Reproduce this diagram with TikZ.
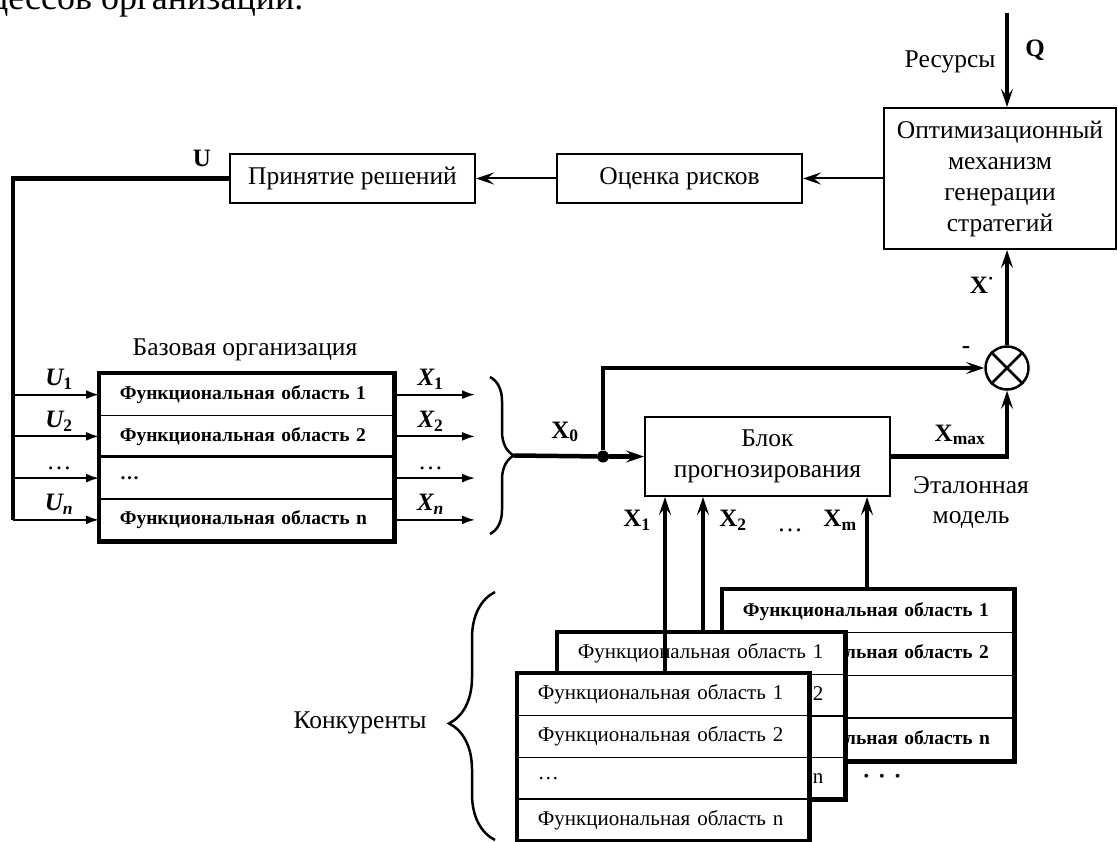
\documentclass[tikz,border=0pt]{standalone}
\usepackage{fontspec}
\setmainfont{Liberation Serif}
\usetikzlibrary{arrows.meta,positioning,decorations.pathreplacing}

\tikzset{
  blk/.style={draw,line width=2pt,fill=white,align=center,inner sep=0pt,
    minimum width=245pt,minimum height=49pt,font=\fontsize{25.5}{31}\selectfont},
  lbl/.style={font=\fontsize{25.5}{30}\selectfont},
  var/.style={font=\fontsize{25}{30}\selectfont\bfseries},
  ivar/.style={font=\fontsize{25}{30}\selectfont\bfseries\itshape},
  row/.style={draw,line width=1.5pt,fill=white,anchor=north west,
    inner xsep=20pt,inner ysep=0pt,align=left},
  frame/.style={line width=4.5pt},
  bus/.style={line width=4.5pt},
  arr/.style={-{Stealth[length=18pt,width=12pt,inset=7pt]}},
  sig/.style={line width=2pt,-{Latex[length=13pt,width=9pt]}},
  brc/.style={line width=2.5pt,decorate,decoration={brace,amplitude=#1}}
}

\begin{document}
\begin{tikzpicture}[x=1pt,y=-1pt]
\useasboundingbox (0,0) rectangle (1118,842);
\begin{scope}
\clip (0,0) rectangle (1118,842);
\node[anchor=base east,font=\fontsize{36}{40}\selectfont] (page) at (307,10) {процессов организации.};
\end{scope}

% blocks
\node[blk] (resh) at (352.5,178.5) {Принятие решений};
\node[blk] (risk) at (679.5,178.5) {Оценка рисков};
\node[blk,minimum width=232pt,minimum height=141pt] (optim) at (1000,178.5) {Оптимизационный\\механизм\\генерации\\стратегий};
\node[blk,minimum height=79pt] (prog) at (767.5,456.5) {Блок\\прогнозирования};
\node[circle,draw,line width=2.5pt,minimum size=43pt,inner sep=0pt] (cmp) at (1007,368) {};
\draw[line width=2.5pt] (cmp.north west) -- (cmp.south east) (cmp.north east) -- (cmp.south west);

% base organization
\node[lbl] (base) at (245,350) {Базовая организация};
\foreach \i/\t in {1/Функциональная область 1,2/Функциональная область 2,3/\dots,4/Функциональная область n}
  \node[row,font=\fontsize{19.5}{23}\selectfont\bfseries,text width=254pt,minimum height=41.75pt] (b\i) at (99,{373+(\i-1)*41.75}) {\t};
\draw[frame] (b1.north west) rectangle (b4.south east);
\draw[line width=3pt] (b3.north west) -- (b3.north east);

\coordinate (ubus) at (13,178.5);
\coordinate (xout) at (475,0);
\draw[bus] (resh.west) -- (ubus) -- (ubus |- b4.west);
\node[var] (u) at (202,158) {U};
\foreach \i/\ul/\xl in {1/{U\textsubscript{\upshape 1}}/{X\textsubscript{\upshape 1}},2/{U\textsubscript{\upshape 2}}/{X\textsubscript{\upshape 2}},3/{\mdseries\upshape\dots}/{\mdseries\upshape\dots},4/{U\textsubscript{n}}/{X\textsubscript{n}}}{
  \draw[sig] (b\i.west -| ubus) -- (b\i.west);
  \draw[sig] (b\i.east) -- (b\i.east -| xout);
  \node[ivar,anchor=base] (ul\i) at ([xshift=-40pt,yshift=9pt]b\i.west) {\ul};
  \node[ivar,anchor=base] (xl\i) at ([xshift=36pt,yshift=9pt]b\i.east) {\xl};
}

% X0 bus
\draw[brc=24pt] (490,377) -- (490,534);
\coordinate (xtip) at (514,455.5);
\node[circle,fill,inner sep=0pt,minimum size=12pt] (jn) at (603,456.5) {};
\draw[bus] (xtip) -- (jn);
\draw[bus,arr] (jn) -- (prog.west);
\draw[bus,arr] (jn) |- (cmp.west);
\node[var] (x0) at (565,432) {X\textsubscript{0}};

\draw[bus,arr] (prog.east) -| (cmp.south);
\node[var] (xmax) at (960,435) {X\textsubscript{max}};
\node[lbl,align=center] (etal) at (971,503) {Эталонная\\модель};
\draw[line width=3.5pt,arr] (cmp.north) -- (cmp.north |- optim.south);
\node[var] (xst) at (982,285) {X\textsuperscript{·}};
\node[var] (minus) at (966,350) {-};
\coordinate (qin) at (1007,13);
\draw[line width=3.5pt,arr] (qin) -- (qin |- optim.north);
\node[lbl,anchor=east] (res) at (999,62) {Ресурсы};
\node[var] (q) at (1035,50) {Q};
\draw[line width=2pt,arr] (optim.west) -- (risk.east);
\draw[line width=2pt,arr] (risk.west) -- (resh.east);

% competitors
\foreach \i/\t in {1/Функциональная область 1,2/Функциональная область 2,3/{},4/Функциональная область n}
  \node[row,font=\fontsize{19.5}{23}\selectfont\bfseries,text width=251pt,minimum height=42.75pt] (k\i) at (722,{589+(\i-1)*42.75}) {\t};
\draw[frame] (k1.north west) rectangle (k4.south east);
\foreach \i/\t in {1/Функциональная область 1,2/Функциональная область 2,3/{},4/Функциональная область n}
  \node[row,font=\fontsize{21}{25}\selectfont,text width=247pt,minimum height=41.5pt] (m\i) at (557,{632+(\i-1)*41.5}) {\t};
\draw[frame] (m1.north west) rectangle (m4.south east);
\foreach \i/\t in {1/Функциональная область 1,2/Функциональная область 2,3/\dots,4/Функциональная область n}
  \node[row,font=\fontsize{21}{25}\selectfont,text width=251pt,minimum height=41.75pt] (f\i) at (517,{673+(\i-1)*41.75}) {\t};
\draw[frame] (f1.north west) rectangle (f4.south east);

\coordinate (s1) at ([xshift=148pt]f1.north west);
\coordinate (s2) at ([xshift=146pt]m1.north west);
\coordinate (s3) at ([xshift=145pt]k1.north west);
\foreach \s in {s1,s2,s3}
  \draw[bus,arr] (\s) -- (\s |- prog.south);
\node[var] (lx1) at (637,520) {X\textsubscript{1}};
\node[var] (lx2) at (733,520) {X\textsubscript{2}};
\node[lbl] (ldots) at (790,530) {\dots};
\node[var] (lxm) at (840,520) {X\textsubscript{m}};
\node[font=\fontsize{16}{16}\selectfont] (more) at (882,778) {\textbullet\hspace{10pt}\textbullet\hspace{10pt}\textbullet};

\draw[brc=46pt,decoration={aspect=0.47}] (495,840) -- (495,592);
\node[lbl] (konk) at (360,723) {Конкуренты};
\end{tikzpicture}
\end{document}
